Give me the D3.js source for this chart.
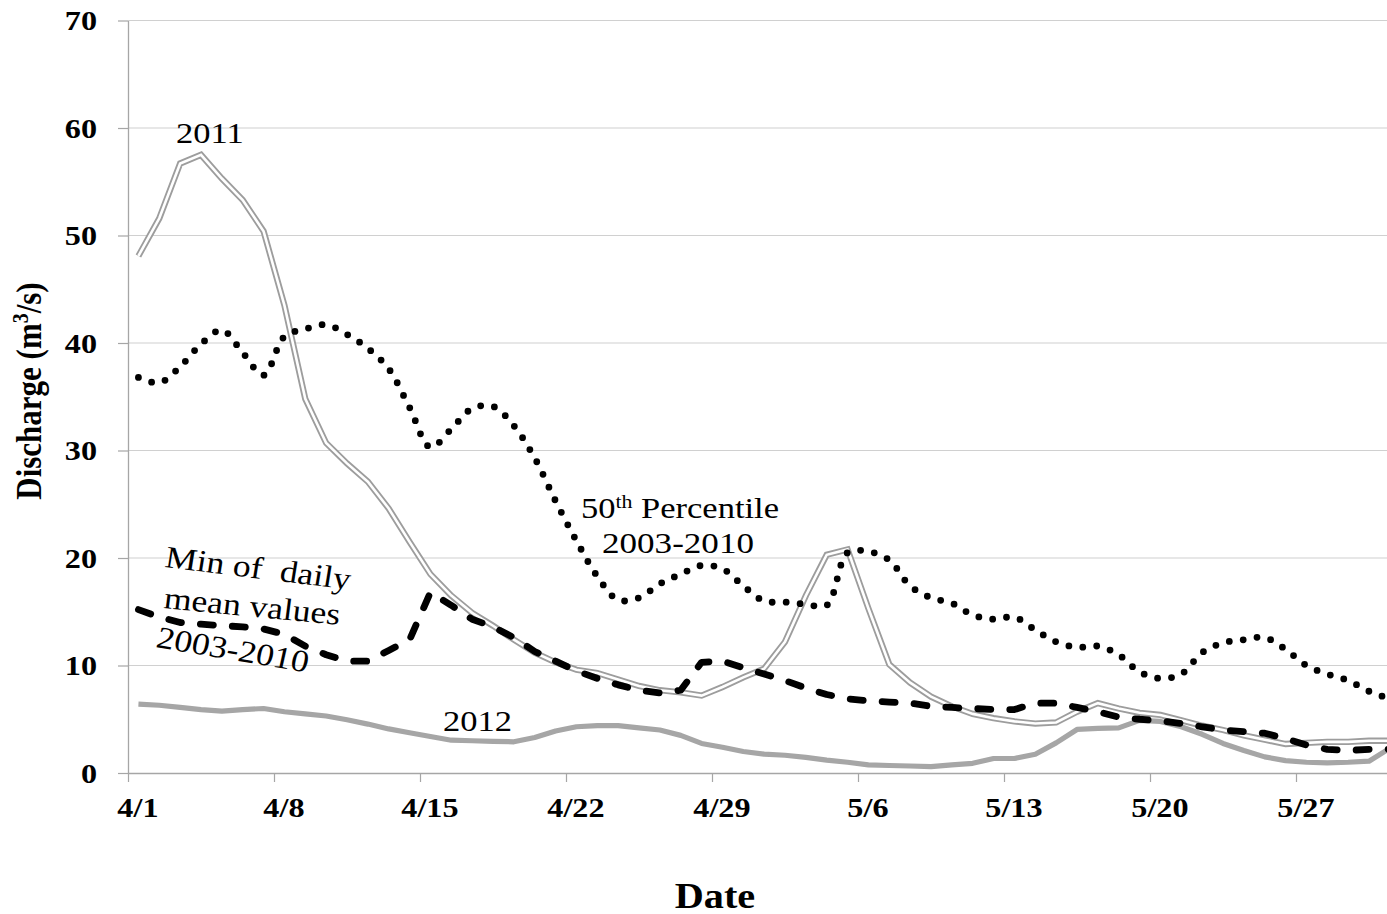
<!DOCTYPE html>
<html>
<head>
<meta charset="utf-8">
<script src="https://cdn.jsdelivr.net/npm/d3@7"></script>
<style>
  html, body { margin: 0; padding: 0; background: #fff; }
  svg { display: block; }
  text { font-family: "Liberation Serif", "Times New Roman", serif; fill: #000; }
</style>
</head>
<body>
<svg id="chart" width="1387" height="914"></svg>
<script>
// Daily discharge, 1 April (day 0) to 31 May (day 60), m3/s
const tickDays   = [0, 7, 14, 21, 28, 35, 42, 49, 56];
const tickLabels = ["4/1", "4/8", "4/15", "4/22", "4/29", "5/6", "5/13", "5/20", "5/27"];
const yTicks     = [0, 10, 20, 30, 40, 50, 60, 70];

const flow2011 = [48.1, 51.6, 56.7, 57.5, 55.3, 53.3, 50.4, 43.5, 34.8, 30.7,
                  28.8, 27.1, 24.6, 21.5, 18.5, 16.5, 14.9, 13.7, 12.4, 11.2,
                  10.3, 9.6, 9.3, 8.7, 8.1, 7.7, 7.5, 7.2, 8.0, 8.9,
                  9.7, 12.2, 16.5, 20.3, 20.8, 15.3, 10.1, 8.4, 7.1, 6.2,
                  5.5, 5.1, 4.8, 4.6, 4.7, 5.7, 6.5, 6.0, 5.6, 5.4,
                  4.9, 4.4, 4.0, 3.5, 3.1, 2.7, 2.8, 2.9, 2.9, 3.0, 3.0];

const flow2012 = [6.4, 6.3, 6.1, 5.9, 5.75, 5.9, 6.0, 5.7, 5.5, 5.3,
                  4.95, 4.55, 4.1, 3.75, 3.4, 3.05, 3.0, 2.95, 2.9, 3.3,
                  3.9, 4.3, 4.4, 4.4, 4.2, 4.0, 3.5, 2.75, 2.4, 2.0,
                  1.75, 1.65, 1.45, 1.2, 1.0, 0.75, 0.7, 0.65, 0.6, 0.75,
                  0.9, 1.35, 1.35, 1.75, 2.8, 4.05, 4.15, 4.2, 4.9, 4.8,
                  4.3, 3.6, 2.75, 2.1, 1.5, 1.15, 1.0, 0.95, 1.0, 1.1, 2.3];

const median0310 = [36.8, 36.3, 37.8, 39.9, 41.2, 39.1, 37.0, 40.6, 41.3, 41.7,
                    40.8, 39.5, 37.6, 34.0, 30.3, 32.0, 33.9, 34.1, 32.3, 29.3,
                    25.3, 21.6, 18.3, 16.1, 16.3, 17.6, 18.5, 19.3, 19.0, 17.4,
                    16.0, 15.9, 15.7, 15.6, 20.5, 20.6, 19.8, 17.4, 16.3, 15.8,
                    14.7, 14.3, 14.5, 13.3, 12.2, 11.7, 11.8, 11.0, 9.4, 8.8,
                    9.2, 11.2, 12.1, 12.4, 12.6, 11.5, 10.0, 9.2, 8.6, 7.6, 6.9];

const minDaily0310 = [15.2, 14.5, 14.0, 13.85, 13.7, 13.6, 13.4, 12.9, 11.8, 11.0,
                      10.4, 10.4, 11.4, 12.4, 16.8, 15.6, 14.3, 13.6, 12.6, 11.3,
                      10.4, 9.5, 8.8, 8.2, 7.7, 7.45, 7.7, 10.3, 10.4, 9.8,
                      9.2, 8.6, 7.9, 7.3, 6.9, 6.7, 6.6, 6.5, 6.2, 6.1,
                      6.0, 5.9, 5.9, 6.5, 6.5, 6.1, 5.7, 5.2, 5.0, 4.85,
                      4.6, 4.3, 4.0, 3.85, 3.7, 3.2, 2.6, 2.2, 2.1, 2.2, 2.2];

(function drawChart() {
  const SX = 1.15; // horizontal text stretch

  const svg = d3.select("#chart");
  const plotLeft = 128, plotBottom = 773, plotTop = 20.5;
  const dayW = 146 / 7;

  const x = d3.scaleLinear().domain([0, 61]).range([plotLeft, plotLeft + 61 * dayW]);
  const y = d3.scaleLinear().domain([0, 70]).range([plotBottom, plotTop]);
  const px = i => x(i + 0.5);

  // gridlines
  svg.append("g").selectAll("line")
    .data(yTicks.filter(v => v > 0))
    .join("line")
    .attr("x1", x(0)).attr("x2", x(61))
    .attr("y1", d => y(d)).attr("y2", d => y(d))
    .attr("stroke", "#d0d0d0").attr("stroke-width", 1.2);

  // y axis
  const yAxis = svg.append("g").attr("transform", `translate(${plotLeft},0)`)
    .call(d3.axisLeft(y).tickValues(yTicks).tickSize(10).tickSizeOuter(0));
  yAxis.select(".domain").attr("stroke", "#a6a6a6").attr("stroke-width", 1.3);
  yAxis.selectAll(".tick line").attr("stroke", "#a6a6a6").attr("stroke-width", 1.2);
  yAxis.selectAll(".tick text")
    .attr("x", null).attr("dy", "0.33em")
    .attr("transform", `translate(-31,0) scale(${SX},1)`)
    .attr("text-anchor", "end")
    .style("font-family", '"Liberation Serif", serif')
    .style("font-weight", "bold").style("font-size", "28px").attr("fill", "#000");

  // x axis
  const xAxis = svg.append("g").attr("transform", `translate(0,${plotBottom})`)
    .call(d3.axisBottom(x).tickValues(tickDays).tickSize(9).tickSizeOuter(0)
      .tickFormat((d, i) => tickLabels[i]));
  xAxis.select(".domain").attr("stroke", "#a6a6a6").attr("stroke-width", 1.3);
  xAxis.selectAll(".tick line").attr("stroke", "#a6a6a6").attr("stroke-width", 1.2);
  xAxis.selectAll(".tick text")
    .attr("y", null).attr("dy", null)
    .attr("transform", `translate(${px(0) - x(0) - 1},44) scale(${SX},1)`)
    .style("font-family", '"Liberation Serif", serif')
    .style("font-weight", "bold").style("font-size", "28px").attr("fill", "#000");

  // series
  const line = d3.line().x((d, i) => px(i)).y(d => y(d));
  const smooth = d3.line().x((d, i) => px(i)).y(d => y(d)).curve(d3.curveCatmullRom.alpha(0.5));

  svg.append("path").datum(flow2012).attr("d", line)
    .attr("fill", "none").attr("stroke", "#a6a6a6").attr("stroke-width", 5.2)
    .attr("stroke-linejoin", "round");

  // 2011 drawn as a double line: grey casing with a white core
  svg.append("path").datum(flow2011).attr("d", line)
    .attr("fill", "none").attr("stroke", "#9d9d9d").attr("stroke-width", 6.3);
  svg.append("path").datum(flow2011).attr("d", line)
    .attr("fill", "none").attr("stroke", "#fff").attr("stroke-width", 2.6);

  svg.append("path").datum(median0310).attr("d", smooth)
    .attr("fill", "none").attr("stroke", "#000").attr("stroke-width", 6.8)
    .attr("stroke-linecap", "round").attr("stroke-dasharray", "0 14");

  svg.append("path").datum(minDaily0310).attr("d", line)
    .attr("fill", "none").attr("stroke", "#000").attr("stroke-width", 6.8)
    .attr("stroke-linecap", "round").attr("stroke-linejoin", "round")
    .attr("stroke-dasharray", "13 19");

  // text helper
  function label(tx, ty, size, weight, angle) {
    return svg.append("text")
      .attr("transform", `translate(${tx},${ty}) scale(${SX},1)` + (angle ? ` rotate(${angle})` : ""))
      .style("font-size", size + "px").style("font-weight", weight)
      .style("white-space", "pre");
  }

  // axis titles
  const yt = svg.append("text")
    .attr("transform", `translate(41,391) scale(${SX},1) rotate(-90)`)
    .attr("text-anchor", "middle")
    .style("font-size", "31px").style("font-weight", "bold");
  yt.append("tspan").text("Discharge (m");
  yt.append("tspan").text("3").attr("baseline-shift", "super").style("font-size", "20px");
  yt.append("tspan").text("/s)");

  label(715, 908, 35, "bold").attr("text-anchor", "middle").text("Date");

  // series annotations
  label(176, 143, 30, "normal").text("2011");
  label(443, 731, 30, "normal").text("2012");

  const p = label(581, 518, 30, "normal");
  p.append("tspan").text("50");
  p.append("tspan").text("th").attr("baseline-shift", "super").style("font-size", "19px");
  p.append("tspan").text(" Percentile");
  label(602, 553, 30.5, "normal").text("2003-2010");

  label(164, 567, 31, "normal", 8).text("Min of  daily");
  label(163, 608, 31, "normal", 6.3).text("mean values");
  label(155, 647, 31, "normal", 10.9).text("2003-2010");
})();
</script>
</body>
</html>
